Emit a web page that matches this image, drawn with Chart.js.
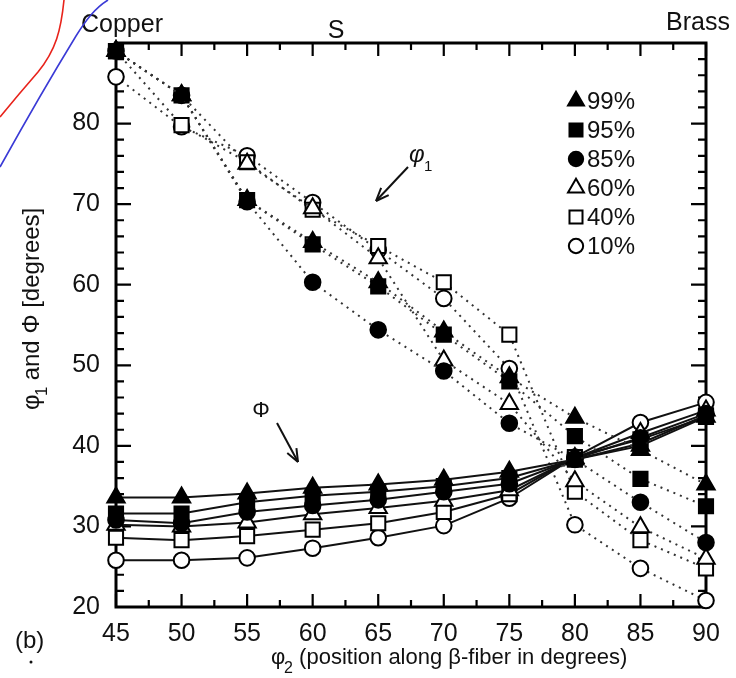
<!DOCTYPE html>
<html>
<head>
<meta charset="utf-8">
<script src="https://cdn.jsdelivr.net/npm/chart.js@4/dist/chart.umd.min.js"></script>
<style>
  html, body { margin: 0; padding: 0; background: #fff; }
  #wrap { width: 736px; height: 678px; }
</style>
</head>
<body>
<div id="wrap"><canvas id="chart"></canvas></div>
<script>
// phi2 positions along the beta fibre
const phi2 = [45, 50, 55, 60, 65, 70, 75, 80, 85, 90];
const levels = ['99%', '95%', '85%', '60%', '40%', '10%'];

// phi1 (dotted curves)
const phi1_99 = [89.0, 83.5, 70.5, 65.3, 60.3, 54.2, 48.5, 43.5, 39.5, 35.2];
const phi1_95 = [89.0, 83.5, 70.5, 65.0, 59.8, 53.8, 48.0, 41.2, 35.9, 32.5];
const phi1_85 = [89.0, 83.5, 70.3, 60.3, 54.4, 49.3, 42.8, 38.3, 33.0, 28.0];
const phi1_60 = [89.0, 83.5, 75.0, 69.5, 63.3, 50.6, 45.2, 35.6, 29.9, 26.0];
const phi1_40 = [89.0, 79.8, 75.2, 69.3, 64.8, 60.3, 53.8, 34.3, 28.3, 24.8];
const phi1_10 = [85.8, 79.6, 76.0, 70.2, 64.3, 58.3, 49.6, 30.2, 24.8, 20.8];

// Phi (solid curves)
const Phi_99 = [33.6, 33.6, 34.1, 34.8, 35.2, 35.8, 36.8, 38.3, 40.0, 43.6];
const Phi_95 = [31.6, 31.6, 33.0, 33.8, 34.3, 35.0, 36.0, 38.3, 40.3, 43.8];
const Phi_85 = [30.8, 30.4, 31.8, 32.6, 33.3, 34.3, 35.3, 38.4, 41.0, 44.0];
const Phi_60 = [30.2, 30.0, 30.5, 31.5, 32.3, 33.2, 34.5, 38.5, 41.6, 44.4];
const Phi_40 = [28.6, 28.3, 28.8, 29.6, 30.4, 31.8, 34.0, 38.6, 40.8, 43.6];
const Phi_10 = [25.8, 25.8, 26.1, 27.3, 28.6, 30.1, 33.5, 38.6, 42.9, 45.4];

const xTicks = [45, 50, 55, 60, 65, 70, 75, 80, 85, 90];
const yTicks = [20, 30, 40, 50, 60, 70, 80, 90];

const phi1Sets = [phi1_99, phi1_95, phi1_85, phi1_60, phi1_40, phi1_10];
const PhiSets = [Phi_99, Phi_95, Phi_85, Phi_60, Phi_40, Phi_10];

const FONT = "'Liberation Sans', Arial, Helvetica, sans-serif";
const markers = [
  { style: 'triangle', fill: '#000', r: 10 },
  { style: 'rect', fill: '#000', r: 10 },
  { style: 'circle', fill: '#000', r: 7.8 },
  { style: 'triangle', fill: '#fff', r: 10 },
  { style: 'rect', fill: '#fff', r: 10 },
  { style: 'circle', fill: '#fff', r: 7.8 }
];

const datasets = [];
levels.forEach((lv, i) => {
  const m = markers[i];
  const common = {
    pointStyle: m.style,
    pointRadius: m.r,
    pointHoverRadius: m.r,
    pointBackgroundColor: m.fill,
    pointBorderColor: '#000',
    pointBorderWidth: 2,
    borderWidth: 2,
    tension: 0,
    clip: false
  };
  datasets.push(Object.assign({
    label: lv + ' φ1',
    data: phi2.map((x, j) => ({ x: x, y: phi1Sets[i][j] })),
    borderDash: [2, 5],
    borderColor: '#333'
  }, common));
  datasets.push(Object.assign({
    label: lv + ' Φ',
    data: phi2.map((x, j) => ({ x: x, y: PhiSets[i][j] })),
    borderColor: '#111'
  }, common));
});

function drawMarker(ctx, m, x, y) {
  ctx.save();
  ctx.fillStyle = m.fill;
  ctx.strokeStyle = '#000';
  ctx.lineWidth = 2;
  ctx.beginPath();
  if (m.style === 'circle') {
    ctx.arc(x, y, m.r, 0, Math.PI * 2);
  } else if (m.style === 'rect') {
    const s = m.r * Math.SQRT1_2;
    ctx.rect(x - s, y - s, 2 * s, 2 * s);
  } else {
    let a = 0;
    for (let k = 0; k < 3; k++) {
      const px = x + Math.sin(a) * m.r, py = y - Math.cos(a) * m.r;
      if (k === 0) ctx.moveTo(px, py); else ctx.lineTo(px, py);
      a += Math.PI * 2 / 3;
    }
    ctx.closePath();
  }
  ctx.fill();
  ctx.stroke();
  ctx.restore();
}

function arrow(ctx, x1, y1, x2, y2) {
  const ang = Math.atan2(y2 - y1, x2 - x1);
  ctx.beginPath();
  ctx.moveTo(x1, y1);
  ctx.lineTo(x2, y2);
  ctx.stroke();
  ctx.beginPath();
  ctx.moveTo(x2, y2);
  ctx.lineTo(x2 - 14 * Math.cos(ang - 0.38), y2 - 14 * Math.sin(ang - 0.38));
  ctx.moveTo(x2, y2);
  ctx.lineTo(x2 - 14 * Math.cos(ang + 0.38), y2 - 14 * Math.sin(ang + 0.38));
  ctx.stroke();
}

const decor = {
  id: 'decor',
  beforeDatasetsDraw(chart) {
    const ctx = chart.ctx, a = chart.chartArea;
    const xs = chart.scales.x, ys = chart.scales.y;
    ctx.save();
    ctx.strokeStyle = '#000';
    ctx.lineWidth = 3;
    ctx.strokeRect(a.left, a.top, a.right - a.left, a.bottom - a.top);
    ctx.lineWidth = 2.2;
    ctx.beginPath();
    for (let v = 45; v <= 90.01; v += 2.5) {
      const px = xs.getPixelForValue(v);
      const len = (v % 5 === 0) ? 13 : 7;
      ctx.moveTo(px, a.bottom); ctx.lineTo(px, a.bottom - len);
      ctx.moveTo(px, a.top); ctx.lineTo(px, a.top + len);
    }
    for (let v = 20; v <= 90.01; v += 2) {
      const py = ys.getPixelForValue(v);
      const len = (v % 10 === 0) ? 15 : 8;
      ctx.moveTo(a.left, py); ctx.lineTo(a.left + len, py);
      ctx.moveTo(a.right, py); ctx.lineTo(a.right - len, py);
    }
    ctx.stroke();
    ctx.restore();
  },
  afterDraw(chart) {
    const ctx = chart.ctx;
    ctx.save();
    ctx.fillStyle = '#111';
    ctx.strokeStyle = '#111';
    ctx.textBaseline = 'alphabetic';

    // labels above the frame
    ctx.font = '25px ' + FONT;
    ctx.textAlign = 'left';
    ctx.fillText('Copper', 81, 32);
    ctx.textAlign = 'center';
    ctx.fillText('S', 336, 38);
    ctx.textAlign = 'right';
    ctx.fillText('Brass', 730, 30);

    // legend
    ctx.font = '24px ' + FONT;
    ctx.textAlign = 'left';
    ctx.textBaseline = 'middle';
    levels.forEach((lv, i) => {
      const y = 101 + i * 29;
      drawMarker(ctx, Object.assign({}, markers[i], { r: markers[i].r * 0.92 }), 576, y);
      ctx.fillText(lv, 587, y + 1);
    });

    // phi1 / Phi annotations
    ctx.lineWidth = 2;
    arrow(ctx, 408, 167, 376, 201);
    ctx.font = 'italic 24px ' + FONT;
    ctx.fillText('φ', 409, 155);
    ctx.font = '15px ' + FONT;
    ctx.fillText('1', 424, 167);
    ctx.font = '22px ' + FONT;
    ctx.textAlign = 'center';
    ctx.fillText('Φ', 261, 411);
    arrow(ctx, 277, 423, 298, 462);

    // axis titles
    ctx.textBaseline = 'alphabetic';
    ctx.textAlign = 'left';
    ctx.font = '22px ' + FONT;
    ctx.fillText('φ', 271, 664);
    ctx.font = '16px ' + FONT;
    ctx.fillText('2', 284, 673);
    ctx.font = '22px ' + FONT;
    ctx.fillText(' (position along β-fiber in degrees)', 293, 664);

    ctx.save();
    ctx.translate(39, 410);
    ctx.rotate(-Math.PI / 2);
    ctx.font = '24px ' + FONT;
    ctx.fillText('φ', 0, 0);
    ctx.font = '17px ' + FONT;
    ctx.fillText('1', 14, 8);
    ctx.font = '24px ' + FONT;
    ctx.fillText(' and Φ [degrees]', 23, 0);
    ctx.restore();

    ctx.font = '24px ' + FONT;
    ctx.fillText('(b)', 15, 648);
    ctx.beginPath();
    ctx.arc(31, 662, 1.5, 0, Math.PI * 2);
    ctx.fill();

    // stray curves from the neighbouring panel
    ctx.lineWidth = 1.6;
    ctx.strokeStyle = '#e8231b';
    ctx.beginPath();
    ctx.moveTo(64, 0);
    ctx.bezierCurveTo(61, 30, 56, 50, 38, 72);
    ctx.quadraticCurveTo(18, 95, 0, 117);
    ctx.stroke();
    ctx.strokeStyle = '#3a3ad6';
    ctx.beginPath();
    ctx.moveTo(108, 0);
    ctx.bezierCurveTo(95, 8, 86, 20, 76, 36);
    ctx.quadraticCurveTo(40, 95, 0, 167);
    ctx.stroke();
    ctx.restore();
  }
};

new Chart(document.getElementById('chart'), {
  type: 'line',
  data: { datasets: datasets },
  options: {
    animation: false,
    responsive: true,
    maintainAspectRatio: false,
    layout: { padding: { top: 43, right: 30, left: 0, bottom: 0 } },
    plugins: { legend: { display: false }, tooltip: { enabled: false } },
    scales: {
      x: {
        type: 'linear', min: 45, max: 90,
        afterBuildTicks: s => { s.ticks = xTicks.map(v => ({ value: v })); },
        afterFit: s => { s.height = 71; },
        ticks: { padding: 12, color: '#111', font: { family: FONT, size: 25 }, maxRotation: 0, autoSkip: false },
        grid: { display: false, drawTicks: false },
        border: { display: false }
      },
      y: {
        type: 'linear', min: 20, max: 90,
        afterBuildTicks: s => { s.ticks = yTicks.map(v => ({ value: v })); },
        afterFit: s => { s.width = 116; },
        ticks: { padding: 16, color: '#111', font: { family: FONT, size: 25 }, callback: v => (v === 90 ? '' : v) },
        grid: { display: false, drawTicks: false },
        border: { display: false }
      }
    }
  },
  plugins: [decor]
});
</script>
</body>
</html>
